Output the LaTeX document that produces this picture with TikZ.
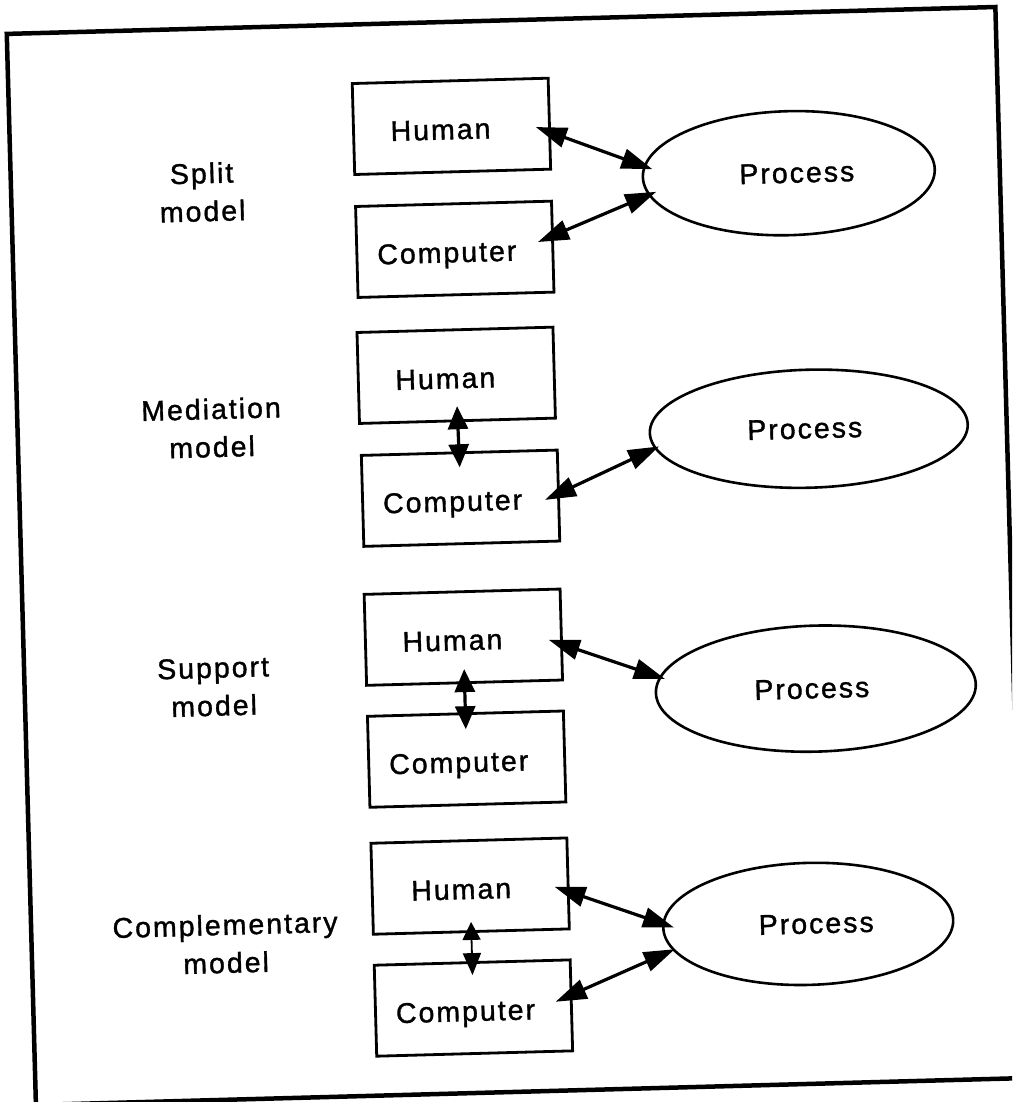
\documentclass[tikz,border=0pt]{standalone}
\usepackage{fontspec}
\setmainfont{Liberation Sans}[LetterSpace=7, FakeBold=1.2]
\usetikzlibrary{arrows.meta,shapes.geometric}
\newcommand\lblfont{\fontsize{28.5}{38}\selectfont}
\begin{document}
\begin{tikzpicture}[x=1pt,y=-1pt,
  frame/.style={draw, line width=4.5pt, line join=miter},
  box/.style={draw, line width=2.8pt, minimum width=196pt, minimum height=91pt,
    inner sep=0pt, text height=28pt, text depth=2pt, font=\lblfont},
  proc/.style={draw, ellipse, line width=2.6pt, inner sep=0pt, font=\lblfont},
  lbl/.style={align=center, inner sep=0pt, font=\lblfont},
  biarrow/.style={line width=3.2pt,
    {Triangle[length=31pt,width=20pt]}-{Triangle[length=31pt,width=20pt]}},
  vbiarrow/.style={line width=3.2pt,
    {Triangle[length=23pt,width=20pt]}-{Triangle[length=23pt,width=20pt]}},
  thinshaft/.style={line width=1.8pt,
    {Triangle[length=18pt,width=18pt]}-{Triangle[length=22pt,width=18pt]}}]
\useasboundingbox (0,0) rectangle (1012,1102);
\clip (0,0) rectangle (1012,1102);
\fill[white] (0,0) rectangle (1012,1102);
\begin{scope}[rotate around={1.56:(506,551)}, transform shape]
  % frame
  \draw[frame] (21,20.5) rectangle (1010,1092);

  % left labels
  \node[lbl] (l1) at (212,184) {Split\\model};
  \node[lbl] (l2) at (215,420) {Mediation\\model};
  \node[lbl] (l3) at (210,679) {Support\\model};
  \node[lbl] (l4) at (215,936) {Complementary\\model};

  % boxes
  \node[box] (h1) at (463,125) {\hspace*{-22pt}Human};
  \node[box] (c1) at (463,248) {\hspace*{-16pt}Computer};
  \node[box] (h2) at (461,374) {\hspace*{-22pt}Human};
  \node[box] (c2) at (462,497) {\hspace*{-16pt}Computer};
  \node[box] (h3) at (461,636) {\hspace*{-22pt}Human};
  \node[box] (c3) at (461,758) {\hspace*{-16pt}Computer};
  \node[box] (h4) at (461,885) {\hspace*{-18pt}Human};
  \node[box] (c4) at (461,1007) {\hspace*{-16pt}Computer};

  % processes
  \node[proc, minimum width=292pt, minimum height=124pt] (p1) at (799,181) {\hspace*{16pt}Process};
  \node[proc, minimum width=318pt, minimum height=118pt] (p2) at (812,437) {Process\hspace*{8pt}};
  \node[proc, minimum width=320pt, minimum height=126pt] (p3) at (812,697) {Process\hspace*{8pt}};
  \node[proc, minimum width=290pt, minimum height=122pt] (p4) at (798,932) {\hspace*{16pt}Process};

  % split model
  \draw[biarrow] ([xshift=-15pt,yshift=-3pt]h1.east) -- ([xshift=10pt]p1.177);
  \draw[biarrow] ([xshift=-16pt,yshift=5pt]c1.east) -- ([xshift=10pt]p1.186);
  % mediation model
  \draw[vbiarrow] ([yshift=16pt]h2.south) -- ([yshift=-16pt]c2.north);
  \draw[biarrow] ([xshift=-15pt,yshift=-4pt]c2.east) -- ([xshift=6pt]p2.185);
  % support model
  \draw[vbiarrow] ([yshift=15pt]h3.south) -- ([yshift=-17pt]c3.north);
  \draw[biarrow] ([xshift=-14pt,yshift=-5pt]h3.east) -- ([xshift=7pt]p3.175);
  % complementary model
  \draw[thinshaft] ([yshift=11pt]h4.south) -- ([yshift=-14pt]c4.north);
  \draw[biarrow] ([xshift=-15pt,yshift=-3pt]h4.east) -- ([xshift=12pt]p4.180);
  \draw[biarrow] ([xshift=-17pt,yshift=4pt]c4.east) -- ([xshift=3pt]p4.189);
\end{scope}
\end{tikzpicture}
\end{document}
